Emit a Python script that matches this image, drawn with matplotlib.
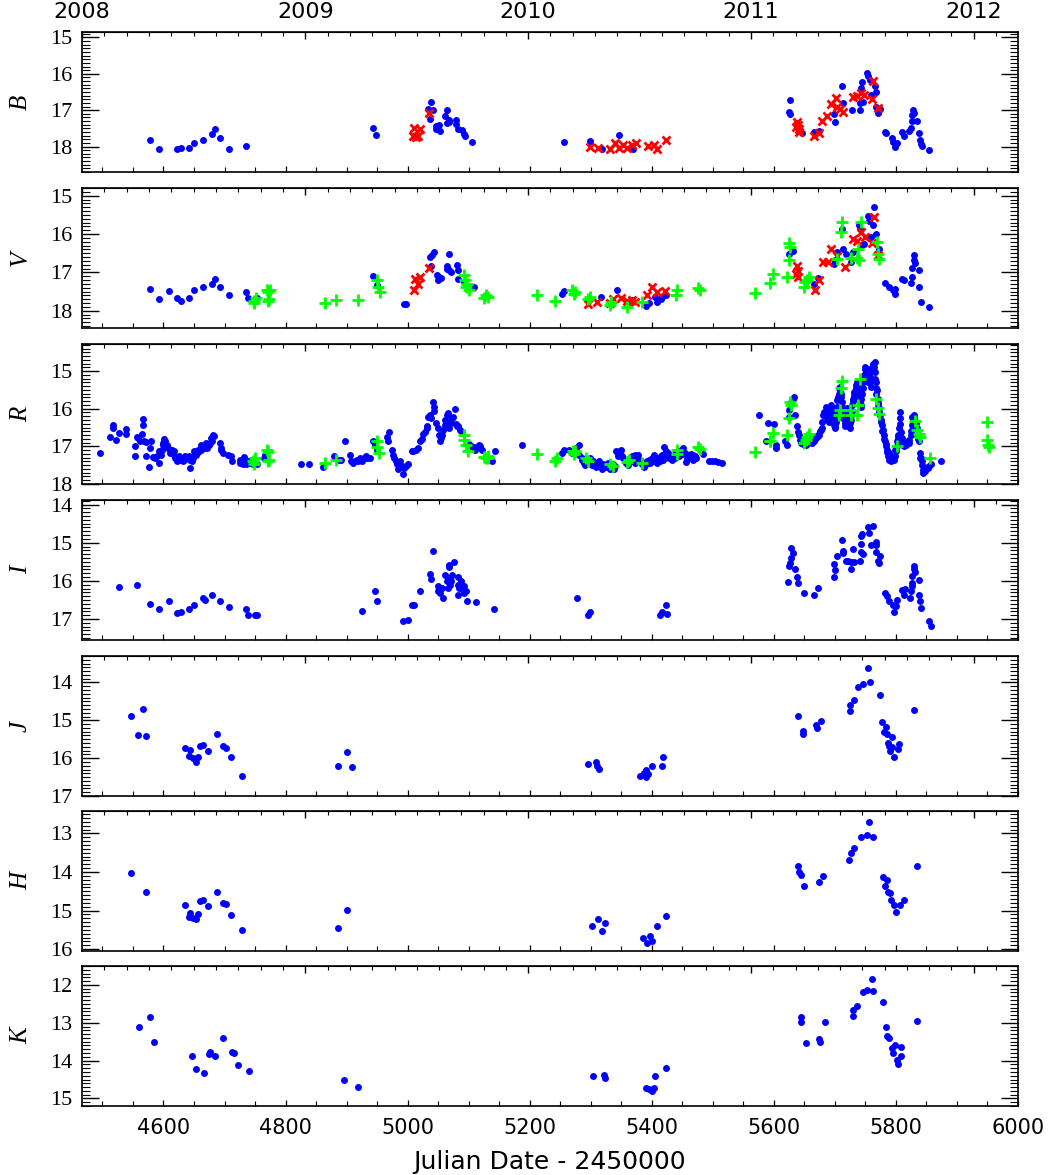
import matplotlib.pyplot as plt
from matplotlib.ticker import MultipleLocator, FixedLocator, NullFormatter

# ---- light-curve data (JD - 2450000, magnitude) ----
B_blue = [(4578, 17.83), (4593, 18.07), (4622, 18.07), (4629, 18.03), (4641, 18.03), (4650, 17.9),
          (4664, 17.83), (4679, 17.65), (4684, 17.52), (4693, 17.76), (4708, 18.06), (4736, 17.98),
          (4944, 17.5), (4948, 17.68), (5034, 16.96), (5036, 17.23), (5039, 16.77), (5041, 17.0),
          (5046, 17.43), (5047, 17.52), (5052, 17.41), (5053, 17.57), (5061, 17.17), (5064, 17.0),
          (5064, 17.35), (5067, 17.26), (5068, 17.32), (5079, 17.26), (5080, 17.37), (5082, 17.52),
          (5089, 17.55), (5092, 17.65), (5094, 17.7), (5106, 17.87),
          (5256, 17.87), (5298, 17.85), (5318, 18.06), (5346, 17.68), (5369, 18.08),
          (5626, 16.71), (5625, 17.04), (5626, 17.1), (5646, 17.63), (5665, 17.59), (5674, 17.57),
          (5699, 17.11), (5700, 17.32), (5711, 16.33), (5713, 16.8), (5728, 17.0), (5741, 16.81),
          (5741, 17.0), (5742, 16.39), (5745, 16.22), (5746, 16.77), (5753, 15.98), (5755, 16.07),
          (5757, 16.17), (5759, 16.59), (5766, 16.33), (5767, 16.5), (5768, 16.9), (5770, 17.09),
          (5774, 16.97), (5782, 17.59), (5784, 17.63), (5793, 17.77), (5796, 17.87), (5799, 18.0),
          (5802, 17.9), (5810, 17.59), (5814, 17.72), (5822, 17.57), (5824, 17.48), (5826, 17.3),
          (5827, 17.13), (5828, 17.0), (5830, 17.09), (5835, 17.29), (5838, 17.62), (5839, 17.83),
          (5841, 17.93), (5842, 17.98), (5854, 18.1)]
B_red = [(5008, 17.7), (5011, 17.48), (5014, 17.74), (5017, 17.7), (5021, 17.52), (5035, 17.09),
         (5298, 18.02), (5312, 18.03), (5332, 18.06), (5340, 17.91), (5346, 18.03), (5353, 17.96),
         (5360, 18.03), (5367, 17.96), (5374, 17.89), (5394, 17.98), (5403, 17.97), (5409, 18.06),
         (5423, 17.81),
         (5637, 17.46), (5638, 17.32), (5639, 17.41), (5641, 17.52), (5642, 17.61), (5665, 17.72),
         (5674, 17.63), (5679, 17.3), (5687, 17.17), (5693, 16.83), (5702, 16.67), (5704, 16.9),
         (5708, 16.98), (5714, 17.04), (5729, 16.63), (5737, 16.61), (5743, 16.52), (5748, 16.57),
         (5760, 16.7), (5763, 16.19), (5771, 16.94)]

V_blue = [(4578, 17.43), (4593, 17.69), (4609, 17.49), (4622, 17.67), (4629, 17.74), (4641, 17.67),
          (4650, 17.47), (4664, 17.39), (4679, 17.3), (4684, 17.18), (4693, 17.39), (4708, 17.58),
          (4736, 17.5), (4739, 17.67), (4753, 17.67),
          (4944, 17.1), (4949, 17.32), (4994, 17.82), (4997, 17.82),
          (5037, 16.6), (5040, 16.55), (5043, 16.46), (5038, 16.84), (5048, 17.08), (5050, 17.19),
          (5052, 17.12), (5055, 17.14), (5064, 16.84), (5065, 16.9), (5068, 16.95), (5071, 16.99),
          (5068, 16.53), (5081, 16.82), (5082, 16.95), (5083, 17.17), (5092, 17.25), (5108, 17.37),
          (5253, 17.56), (5256, 17.49), (5317, 17.65), (5343, 17.47), (5367, 17.72), (5390, 17.87),
          (5395, 17.81), (5406, 17.65), (5409, 17.78), (5415, 17.69), (5417, 17.65), (5423, 17.58),
          (5625, 16.53), (5631, 16.44), (5665, 17.3), (5673, 17.15), (5699, 16.77), (5700, 16.68),
          (5704, 16.46), (5711, 15.88), (5713, 16.38), (5718, 16.53), (5730, 16.46), (5727, 16.73),
          (5740, 15.76), (5741, 15.88), (5745, 16.29), (5747, 16.26), (5754, 15.53), (5756, 15.65),
          (5759, 16.07), (5763, 15.76), (5764, 15.3), (5768, 16.0), (5773, 16.38),
          (5782, 17.27), (5788, 17.39), (5795, 17.47), (5798, 17.56), (5799, 17.43), (5810, 17.18),
          (5813, 17.21), (5824, 17.28), (5826, 17.12), (5827, 16.88), (5829, 16.55), (5830, 16.68),
          (5832, 16.75), (5837, 16.95), (5838, 17.37), (5841, 17.77), (5854, 17.89)]
V_red = [(5010, 17.45), (5012, 17.17), (5017, 17.3), (5021, 17.12), (5035, 16.88),
         (5295, 17.82), (5310, 17.78), (5331, 17.81), (5337, 17.69), (5350, 17.67), (5359, 17.75),
         (5367, 17.72), (5373, 17.78), (5392, 17.6), (5401, 17.37), (5408, 17.52), (5421, 17.49),
         (5637, 17.05), (5638, 16.84), (5639, 16.96), (5640, 17.12), (5667, 17.46), (5674, 17.19),
         (5680, 16.73), (5688, 16.73), (5694, 16.4), (5704, 16.57), (5716, 16.86), (5730, 16.14),
         (5736, 16.18), (5742, 15.94), (5749, 16.09), (5760, 16.23), (5764, 15.56), (5770, 16.55)]
V_green = [(4748, 17.8), (4751, 17.67), (4749, 17.74), (4769, 17.46), (4772, 17.52), (4775, 17.47),
           (4772, 17.74), (4773, 17.69), (4864, 17.8), (4883, 17.71), (4918, 17.71),
           (4950, 17.21), (4951, 17.37), (4954, 17.52),
           (5092, 17.08), (5094, 17.21), (5097, 17.3), (5100, 17.47), (5096, 17.37), (5128, 17.6),
           (5131, 17.65), (5125, 17.67),
           (5212, 17.6), (5242, 17.75), (5270, 17.47), (5275, 17.5), (5272, 17.56), (5295, 17.69),
           (5298, 17.65), (5331, 17.84), (5334, 17.78), (5359, 17.91), (5384, 17.78), (5442, 17.47),
           (5440, 17.6), (5476, 17.4), (5479, 17.45),
           (5569, 17.54), (5593, 17.28), (5599, 17.04), (5621, 17.12), (5624, 16.68), (5625, 16.23),
           (5627, 16.33), (5650, 17.39), (5651, 17.25), (5654, 17.21), (5658, 17.12), (5704, 16.64),
           (5710, 15.94), (5711, 15.69), (5726, 16.62), (5737, 16.62), (5740, 16.68), (5738, 16.38),
           (5742, 15.68), (5769, 16.2), (5771, 16.53), (5773, 16.66)]

R_blue = [(4496, 17.18), (4513, 16.74), (4517, 16.43), (4518, 16.5), (4522, 16.82), (4527, 16.65),
          (4538, 16.54), (4538, 16.67), (4553, 17.0), (4553, 17.26), (4556, 16.74), (4558, 16.78),
          (4561, 16.87), (4564, 16.68), (4566, 16.43), (4566, 16.27), (4568, 16.85), (4571, 16.89),
          (4572, 17.26), (4577, 17.55), (4578, 17.04), (4579, 16.87), (4583, 17.29), (4586, 17.31),
          (4589, 17.26), (4592, 17.13), (4593, 17.44), (4596, 17.22), (4597, 17.09), (4599, 16.96),
          (4601, 16.8), (4603, 16.87), (4606, 16.96), (4608, 17.04), (4611, 17.18), (4614, 17.09),
          (4617, 17.13), (4619, 17.31), (4622, 17.39), (4625, 17.26), (4628, 17.35), (4631, 17.31),
          (4633, 17.35), (4636, 17.26), (4639, 17.32), (4642, 17.26), (4644, 17.57), (4647, 17.39),
          (4650, 17.13), (4653, 17.22), (4656, 17.09), (4658, 17.13), (4661, 16.96), (4664, 17.04),
          (4667, 17.0), (4669, 16.91), (4672, 17.04), (4675, 16.96), (4678, 16.78), (4681, 16.69),
          (4683, 16.72), (4692, 16.91), (4694, 17.04), (4697, 17.18), (4706, 17.22), (4710, 17.26),
          (4712, 17.38), (4725, 17.35), (4726, 17.44), (4729, 17.39), (4731, 17.46), (4732, 17.29),
          (4736, 17.46), (4739, 17.39), (4742, 17.44), (4744, 17.35), (4747, 17.48), (4753, 17.46),
          (4764, 17.32), (4767, 17.22),
          (4600, 16.9), (4604, 17.0), (4610, 17.1), (4616, 17.2), (4621, 17.3), (4627, 17.3),
          (4632, 17.4), (4637, 17.3), (4643, 17.35), (4648, 17.3), (4652, 17.2), (4657, 17.15),
          (4662, 17.1), (4666, 17.05), (4671, 17.0), (4676, 16.9), (4679, 16.85), (4695, 17.1),
          (4727, 17.4), (4733, 17.4), (4740, 17.45), (4745, 17.4),
          (4825, 17.46), (4838, 17.48), (4861, 17.55), (4879, 17.26), (4888, 17.35), (4891, 17.36),
          (4897, 16.85), (4906, 17.22), (4908, 17.38), (4911, 17.44), (4914, 17.39), (4917, 17.35),
          (4919, 17.39), (4922, 17.32), (4925, 17.38), (4928, 17.31), (4931, 17.26), (4933, 17.32),
          (4939, 17.31), (4944, 16.85), (4946, 16.96), (4950, 17.09), (4966, 16.76), (4968, 16.85),
          (4969, 16.61), (4974, 17.09), (4976, 17.22), (4978, 17.32), (4981, 17.39), (4983, 17.48),
          (4985, 17.61), (4988, 17.39), (4990, 17.53), (4993, 17.73), (4994, 17.57), (4997, 17.53),
          (5000, 17.48), (5007, 17.11), (5009, 17.11), (5013, 17.09), (5017, 17.04), (5021, 16.87),
          (5023, 16.8), (5025, 16.68), (5028, 16.61), (5031, 16.52), (5032, 16.47), (5034, 16.21),
          (5036, 16.17), (5039, 16.24), (5042, 15.82), (5043, 15.95), (5044, 16.06), (5046, 16.39),
          (5049, 16.52), (5051, 16.69), (5053, 16.87), (5054, 16.78), (5057, 16.69), (5058, 16.56),
          (5061, 16.43), (5062, 16.3), (5064, 16.17), (5066, 16.12), (5067, 16.34), (5068, 16.52),
          (5071, 16.39), (5073, 16.25), (5075, 16.21), (5078, 16.01), (5079, 16.41), (5081, 16.47),
          (5083, 16.45), (5086, 16.56), (5089, 16.61), (5101, 16.94), (5104, 17.0), (5108, 17.03),
          (5111, 17.09), (5114, 17.04), (5117, 16.96), (5119, 17.0), (5122, 17.09), (5136, 17.35),
          (5139, 17.39), (5143, 17.11), (5188, 16.96),
          (5253, 17.18), (5256, 17.09), (5264, 17.09), (5269, 17.18), (5272, 17.13), (5276, 17.04),
          (5280, 16.97), (5281, 17.22), (5286, 17.31), (5289, 17.44), (5292, 17.35), (5295, 17.39),
          (5299, 17.32), (5303, 17.38), (5306, 17.44), (5310, 17.48), (5314, 17.39), (5317, 17.5),
          (5320, 17.46), (5323, 17.55), (5325, 17.53), (5328, 17.44), (5331, 17.61), (5334, 17.57),
          (5337, 17.48), (5339, 17.53), (5342, 17.11), (5345, 17.18), (5348, 17.13), (5350, 17.09),
          (5353, 17.32), (5356, 17.39), (5359, 17.44), (5362, 17.38), (5364, 17.32), (5367, 17.26),
          (5370, 17.31), (5373, 17.22), (5376, 17.29), (5378, 17.22), (5381, 17.35), (5384, 17.48),
          (5387, 17.55), (5390, 17.44), (5392, 17.39), (5395, 17.35), (5398, 17.38), (5401, 17.31),
          (5403, 17.22), (5406, 17.32), (5409, 17.39), (5412, 17.31), (5415, 17.26), (5417, 17.22),
          (5420, 17.03), (5423, 17.13), (5426, 17.18), (5429, 17.22), (5431, 17.31), (5434, 17.26),
          (5437, 17.24), (5440, 17.18), (5442, 17.22), (5445, 17.13), (5448, 17.09), (5451, 17.04),
          (5454, 17.18), (5456, 17.41), (5459, 17.22), (5462, 17.26), (5465, 17.2), (5468, 17.22),
          (5470, 17.26), (5473, 17.32), (5484, 17.2), (5493, 17.38), (5498, 17.39), (5504, 17.39),
          (5509, 17.41), (5515, 17.44),
          (5285, 17.35), (5290, 17.5), (5297, 17.45), (5302, 17.5), (5308, 17.55), (5312, 17.45),
          (5318, 17.6), (5322, 17.5), (5327, 17.55), (5333, 17.5), (5338, 17.6), (5344, 17.25),
          (5352, 17.25), (5357, 17.45), (5361, 17.5), (5366, 17.4), (5372, 17.45), (5377, 17.35),
          (5383, 17.4), (5389, 17.5), (5393, 17.45), (5397, 17.45), (5402, 17.4), (5408, 17.45),
          (5413, 17.4), (5418, 17.35), (5422, 17.25), (5428, 17.3), (5433, 17.35), (5438, 17.3),
          (5444, 17.25), (5450, 17.2), (5457, 17.3), (5463, 17.3), (5467, 17.35), (5471, 17.3),
          (5576, 16.17), (5590, 16.39), (5600, 16.41), (5587, 16.85), (5604, 17.04), (5603, 16.96),
          (5618, 16.85), (5621, 16.96), (5624, 16.21), (5625, 16.04), (5628, 15.82), (5631, 15.75),
          (5633, 15.68), (5635, 16.17), (5638, 16.47), (5640, 16.61), (5641, 16.69), (5643, 16.82),
          (5646, 16.91), (5649, 16.87), (5652, 16.96), (5654, 16.82), (5657, 16.78), (5660, 16.85),
          (5663, 16.87), (5665, 16.82), (5668, 16.8), (5671, 16.74), (5674, 16.69), (5677, 16.56),
          (5679, 16.34), (5681, 16.17), (5682, 16.08), (5685, 15.95), (5687, 16.04), (5688, 16.21),
          (5689, 16.3), (5690, 16.17), (5692, 15.99), (5693, 15.9), (5696, 16.08), (5698, 16.25),
          (5699, 16.43), (5700, 16.52), (5702, 16.34), (5703, 16.08), (5704, 15.77), (5706, 15.6),
          (5707, 15.46), (5709, 15.42), (5710, 15.6), (5711, 15.82), (5713, 16.08), (5714, 16.25),
          (5716, 16.39), (5717, 16.3), (5718, 16.17), (5720, 15.99), (5721, 16.08), (5722, 16.25),
          (5724, 16.39), (5726, 16.3), (5727, 16.17), (5728, 15.9), (5730, 15.73), (5731, 15.64),
          (5732, 15.55), (5734, 15.46), (5735, 15.38), (5737, 15.29), (5738, 15.51), (5739, 15.68),
          (5741, 15.82), (5742, 15.9), (5743, 15.73), (5745, 15.46), (5746, 15.29), (5748, 15.11),
          (5749, 14.94), (5750, 14.89), (5752, 15.03), (5753, 15.2), (5754, 14.94), (5756, 15.11),
          (5758, 15.29), (5759, 15.42), (5760, 15.2), (5761, 14.94), (5763, 14.81), (5765, 14.76),
          (5766, 15.03), (5767, 15.29), (5769, 15.51), (5770, 15.73), (5771, 15.86), (5773, 15.99),
          (5774, 16.17), (5776, 16.3), (5777, 16.43), (5779, 16.56), (5780, 16.69), (5782, 16.87),
          (5784, 17.0), (5786, 17.09), (5788, 17.18), (5791, 17.26), (5794, 17.31), (5797, 17.35),
          (5799, 17.26), (5800, 17.13), (5801, 17.0), (5802, 16.87), (5804, 16.69), (5805, 16.52),
          (5806, 16.25), (5807, 16.08), (5808, 16.61), (5810, 16.78), (5811, 16.96), (5816, 16.96),
          (5819, 16.87), (5822, 16.82), (5824, 16.69), (5826, 16.43), (5827, 16.21), (5829, 16.17),
          (5830, 16.25), (5833, 16.39), (5834, 16.52), (5835, 16.69), (5837, 16.87), (5839, 17.18),
          (5841, 17.31), (5843, 17.39), (5844, 17.64), (5847, 17.61), (5850, 17.57), (5852, 17.57),
          (5855, 17.53), (5858, 17.48), (5874, 17.38),
          (5644, 16.9), (5647, 16.95), (5651, 16.85), (5656, 16.9), (5659, 16.8), (5662, 16.9),
          (5666, 16.85), (5669, 16.75), (5672, 16.7), (5676, 16.6), (5679, 16.5),
          (5683, 16.2), (5686, 16.1), (5689, 16.0), (5691, 16.35), (5694, 16.2), (5697, 16.0),
          (5701, 16.45), (5703, 15.95), (5705, 15.7), (5708, 15.55), (5710, 15.7), (5712, 15.95),
          (5715, 16.15), (5717, 16.45), (5719, 16.1), (5722, 16.0), (5723, 16.35), (5725, 16.5),
          (5728, 16.05), (5729, 15.8), (5731, 15.75), (5733, 15.65), (5734, 15.6), (5736, 15.45),
          (5739, 15.45), (5740, 15.6), (5743, 15.95), (5744, 15.6), (5746, 15.45), (5747, 15.2),
          (5749, 15.1), (5751, 15.0), (5752, 14.95), (5754, 15.1), (5755, 15.3), (5757, 15.25),
          (5758, 15.05), (5760, 15.0), (5762, 14.85), (5764, 14.9), (5765, 15.2), (5767, 15.45),
          (5768, 15.6), (5770, 15.9), (5772, 16.1), (5775, 16.35), (5778, 16.6), (5781, 16.8),
          (5783, 16.95), (5785, 17.15), (5787, 17.25), (5789, 17.35), (5792, 17.4), (5795, 17.3),
          (5798, 17.1), (5803, 16.75), (5806, 16.4), (5809, 16.9), (5813, 17.0), (5817, 16.9),
          (5821, 16.9), (5825, 16.6), (5828, 16.3), (5831, 16.35), (5836, 16.8), (5840, 17.3),
          (5842, 17.5), (5845, 17.7), (5848, 17.65), (5853, 17.55)]
R_green = [(4747, 17.39), (4750, 17.32), (4748, 17.46), (4769, 17.09), (4772, 17.15), (4771, 17.38),
           (4773, 17.36), (4864, 17.44), (4883, 17.35), (4949, 16.85), (4950, 17.03), (4953, 17.18),
           (5092, 16.69), (5093, 16.82), (5096, 16.96), (5099, 17.13), (5125, 17.29), (5128, 17.32),
           (5131, 17.26), (5132, 17.32),
           (5212, 17.2), (5242, 17.38), (5244, 17.32), (5271, 17.13), (5275, 17.11), (5272, 17.2),
           (5292, 17.32), (5296, 17.39), (5331, 17.46), (5336, 17.53), (5359, 17.41), (5363, 17.35),
           (5384, 17.44), (5442, 17.09), (5441, 17.2), (5476, 17.03), (5479, 17.06),
           (5569, 17.15), (5594, 16.87), (5599, 16.65), (5593, 16.85), (5621, 16.71), (5624, 16.25),
           (5627, 15.82), (5628, 15.9), (5649, 16.91), (5652, 16.82), (5654, 16.74), (5657, 16.68),
           (5707, 16.17), (5709, 16.04), (5710, 15.46), (5711, 15.25), (5724, 16.04), (5727, 16.17),
           (5737, 16.17), (5738, 15.9), (5741, 15.2), (5768, 15.73), (5771, 15.97), (5773, 16.15),
           (5801, 16.98), (5832, 16.32), (5834, 16.56), (5837, 16.68), (5839, 16.74), (5856, 17.32),
           (5950, 16.36), (5949, 16.82), (5951, 16.96), (5953, 17.03)]

I_blue = [(4527, 16.16), (4556, 16.12), (4578, 16.6), (4593, 16.75), (4609, 16.54), (4622, 16.85),
          (4629, 16.82), (4641, 16.74), (4650, 16.62), (4664, 16.45), (4668, 16.49), (4679, 16.36),
          (4693, 16.54), (4708, 16.69), (4736, 16.75), (4739, 16.89), (4750, 16.9), (4754, 16.9),
          (4925, 16.8), (4946, 16.27), (4950, 16.52), (4993, 17.06), (5000, 17.02), (5007, 16.62),
          (5010, 16.62), (5021, 16.27), (5036, 15.82), (5038, 15.94), (5042, 15.22), (5049, 16.14),
          (5050, 16.27), (5052, 16.18), (5053, 16.32), (5056, 16.18), (5058, 16.45), (5062, 15.85),
          (5064, 16.01), (5066, 16.18), (5067, 15.59), (5068, 15.64), (5069, 15.94), (5069, 16.1),
          (5071, 16.01), (5073, 15.85), (5076, 15.51), (5082, 15.89), (5082, 16.11), (5084, 16.18),
          (5083, 16.36), (5087, 16.01), (5089, 16.1), (5090, 16.23), (5092, 16.14), (5093, 16.32),
          (5096, 16.27), (5097, 16.52), (5112, 16.56), (5141, 16.75),
          (5278, 16.46), (5296, 16.89), (5299, 16.82), (5413, 16.89), (5417, 16.82), (5424, 16.64),
          (5425, 16.87),
          (5623, 16.03), (5625, 15.6), (5626, 15.53), (5628, 15.39), (5628, 15.15), (5631, 15.26),
          (5635, 15.68), (5638, 15.89), (5640, 16.05), (5650, 16.33), (5665, 16.36), (5673, 16.18),
          (5699, 15.89), (5700, 15.72), (5699, 15.57), (5703, 15.35), (5711, 14.93), (5713, 15.22),
          (5713, 15.27), (5718, 15.48), (5721, 15.48), (5727, 15.5), (5727, 15.68), (5730, 15.16),
          (5731, 15.5), (5741, 15.48), (5742, 15.24), (5742, 15.03), (5743, 14.82), (5745, 14.78),
          (5746, 15.29), (5755, 14.59), (5756, 14.74), (5763, 14.56), (5759, 15.07), (5767, 14.98),
          (5768, 15.06), (5768, 15.24), (5770, 15.48), (5772, 15.53), (5774, 15.35), (5782, 16.32),
          (5785, 16.4), (5788, 16.54), (5796, 16.64), (5797, 16.82), (5800, 16.67), (5802, 16.49),
          (5810, 16.25), (5813, 16.38), (5815, 16.2), (5823, 16.45), (5824, 16.27), (5826, 16.14),
          (5827, 16.05), (5827, 15.88), (5829, 15.7), (5830, 15.61), (5831, 15.76), (5837, 15.99),
          (5838, 16.38), (5839, 16.54), (5841, 16.71), (5854, 17.06), (5858, 17.19)]

J_blue = [(4547, 14.89), (4558, 15.4), (4566, 14.71), (4571, 15.41), (4635, 15.74), (4641, 15.94),
          (4644, 15.78), (4648, 16.0), (4654, 16.09), (4656, 15.96), (4660, 15.69), (4665, 15.66),
          (4673, 15.8), (4687, 15.37), (4698, 15.69), (4703, 15.74), (4711, 15.98), (4729, 16.46),
          (4886, 16.22), (4901, 15.84), (4909, 16.24),
          (5296, 16.15), (5308, 16.09), (5311, 16.22), (5314, 16.29), (5381, 16.46), (5387, 16.38),
          (5391, 16.32), (5394, 16.41), (5391, 16.5), (5400, 16.22), (5416, 16.22), (5418, 15.97),
          (5639, 14.88), (5647, 15.27), (5647, 15.36), (5669, 15.12), (5670, 15.21), (5677, 15.02),
          (5724, 14.6), (5724, 14.75), (5731, 14.45), (5738, 14.11), (5746, 14.03), (5754, 13.61),
          (5757, 14.0), (5774, 14.33), (5778, 15.04), (5783, 15.18), (5780, 15.32), (5785, 15.36),
          (5787, 15.59), (5789, 15.68), (5791, 15.8), (5794, 15.45), (5794, 15.71), (5797, 15.96),
          (5804, 15.76), (5805, 15.62), (5830, 14.73)]

H_blue = [(4547, 14.02), (4571, 14.52), (4635, 14.85), (4641, 15.16), (4644, 15.06), (4648, 15.19),
          (4654, 15.22), (4656, 15.1), (4660, 14.75), (4665, 14.74), (4673, 14.88), (4687, 14.52),
          (4698, 14.81), (4703, 14.82), (4711, 15.11), (4729, 15.5), (4886, 15.46), (4901, 14.98),
          (5302, 15.39), (5312, 15.21), (5318, 15.53), (5323, 15.32), (5385, 15.71), (5392, 15.84),
          (5397, 15.66), (5400, 15.79), (5408, 15.39), (5423, 15.13),
          (5640, 13.84), (5641, 14.0), (5645, 14.08), (5650, 14.37), (5674, 14.26), (5681, 14.1),
          (5723, 13.68), (5726, 13.5), (5731, 13.37), (5743, 13.1), (5753, 13.03), (5756, 12.71),
          (5763, 13.1), (5779, 14.13), (5782, 14.37), (5787, 14.53), (5792, 14.74), (5797, 14.87),
          (5800, 15.05), (5806, 14.87), (5813, 14.74), (5790, 14.55), (5785, 14.21), (5834, 13.84)]

K_blue = [(4560, 13.1), (4578, 12.86), (4584, 13.52), (4647, 13.88), (4654, 14.22), (4666, 14.32),
          (4674, 13.83), (4676, 13.76), (4685, 13.89), (4698, 13.41), (4712, 13.78), (4715, 13.81),
          (4722, 14.11), (4740, 14.27), (4895, 14.51), (4919, 14.69),
          (5303, 14.4), (5322, 14.38), (5324, 14.45), (5391, 14.73), (5396, 14.75), (5400, 14.8),
          (5404, 14.73), (5406, 14.4), (5424, 14.2),
          (5644, 12.86), (5644, 12.97), (5653, 13.54), (5674, 13.44), (5675, 13.5), (5683, 12.97),
          (5729, 12.81), (5730, 12.66), (5736, 12.56), (5746, 12.18), (5752, 12.13), (5760, 11.84),
          (5763, 12.16), (5779, 12.44), (5783, 13.12), (5785, 13.34), (5789, 13.41), (5793, 13.67),
          (5796, 13.81), (5798, 13.6), (5802, 13.98), (5804, 14.1), (5809, 13.88), (5809, 13.63),
          (5834, 12.95)]

bands = ['B', 'V', 'R', 'I', 'J', 'H', 'K']
ylims = [(18.7, 14.85), (18.45, 14.8), (18.0, 14.28), (17.55, 13.88),
         (17.0, 13.3), (16.05, 12.42), (15.2, 11.5)]
series = {
    'B': [B_blue, B_red, []],
    'V': [V_blue, V_red, V_green],
    'R': [R_blue, [], R_green],
    'I': [I_blue, [], []],
    'J': [J_blue, [], []],
    'H': [H_blue, [], []],
    'K': [K_blue, [], []],
}
year_labels = ['2008', '2009', '2010', '2011', '2012']
year_jd = [4466.5, 4832.5, 5197.5, 5562.5, 5927.5]

W, H = 1054, 1175
fig = plt.figure(figsize=(W / 100, H / 100), dpi=100)
x0, x1 = 82, 1018
tops = [32, 188, 344, 500, 656, 811, 966]
ph = 140

minor_years = []
for a, b in zip(year_jd[:-1], year_jd[1:]):
    minor_years += [a + k * (b - a) / 10 for k in range(1, 10)]
minor_years += [year_jd[-1] + k * 36.5 for k in range(1, 3)]

for i, band in enumerate(bands):
    ax = fig.add_axes([x0 / W, 1 - (tops[i] + ph) / H, (x1 - x0) / W, ph / H])
    blue, red, green = series[band]
    if blue:
        jd, mag = zip(*blue)
        ax.plot(jd, mag, 'o', color='#0000ff', ms=5, mec='none')
    if red:
        jd, mag = zip(*red)
        ax.plot(jd, mag, 'x', color='#ff0000', ms=6, mew=2)
    if green:
        jd, mag = zip(*green)
        ax.plot(jd, mag, '+', color='#00ff00', ms=8, mew=2)

    ax.set_xlim(4466.5, 6000)
    ax.set_ylim(*ylims[i])
    ax.yaxis.set_major_locator(MultipleLocator(1))
    ax.yaxis.set_minor_locator(MultipleLocator(0.1))
    ax.xaxis.set_major_locator(MultipleLocator(200))
    ax.xaxis.set_minor_locator(MultipleLocator(50))
    ax.tick_params(axis='y', which='major', direction='in', length=12, width=1,
                   left=True, right=True, labelsize=16, pad=7, colors='black')
    ax.tick_params(axis='y', which='minor', direction='in', length=6, width=0.8,
                   left=True, right=True)
    ax.tick_params(axis='x', which='major', direction='in', length=4, width=0.9,
                   top=False, bottom=True, labelsize=15, pad=9)
    ax.tick_params(axis='x', which='minor', direction='in', length=3.5, width=0.8,
                   top=False, bottom=True)
    for lab in ax.get_yticklabels():
        lab.set_fontfamily('Liberation Serif')
    for s in ax.spines.values():
        s.set_linewidth(1.2)
    if i < len(bands) - 1:
        ax.xaxis.set_major_formatter(NullFormatter())
    else:
        ax.set_xlabel('Julian Date - 2450000', fontsize=18, labelpad=8)

    top = ax.secondary_xaxis('top')
    top.xaxis.set_major_locator(FixedLocator(year_jd))
    top.xaxis.set_minor_locator(FixedLocator(minor_years))
    top.tick_params(which='major', direction='in', length=5, width=1, labelsize=16, pad=7)
    top.tick_params(which='minor', direction='in', length=3, width=0.8)
    if i == 0:
        top.set_xticklabels(year_labels)
    else:
        top.xaxis.set_major_formatter(NullFormatter())

    fig.text(21 / W, 1 - (tops[i] + ph / 2) / H, band, rotation=90, fontsize=18,
             fontstyle='italic', family='Liberation Serif', ha='center', va='center')

fig.savefig('out.png', dpi=100)
